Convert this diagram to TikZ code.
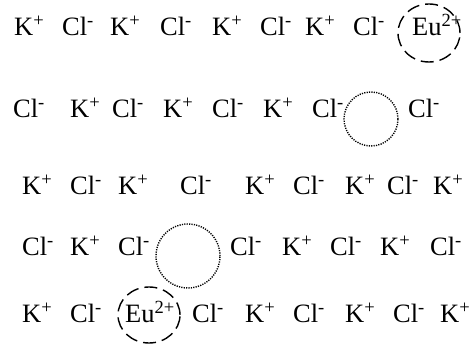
\documentclass[tikz,border=0pt]{standalone}
\usepackage{fontspec}
\setmainfont{Liberation Serif}
\newcommand{\Kp}{K\textsuperscript{+}}
\newcommand{\Clm}{Cl\textsuperscript{-}}
\newcommand{\Eu}{Eu\textsuperscript{2+}}

\begin{document}
\begin{tikzpicture}[x=1pt,y=-1pt,
  ion/.style={anchor=base west,inner sep=0pt,font=\fontsize{26.5}{30}\selectfont},
  dopant/.style={line width=1.4pt,dash pattern=on 13pt off 6pt},
  vacancy/.style={line width=1.4pt,dash pattern=on 1.2pt off 1.2pt}]
\useasboundingbox (0,0) rectangle (472,347);
% row 1
\foreach \x/\t [count=\i] in {14/\Kp,62/\Clm,110/\Kp,160/\Clm,212/\Kp,260/\Clm,305/\Kp,353/\Clm}
  \node[ion] (a\i) at (\x,36) {\t};
\node[ion] (eua) at (412,36) {\Eu};
\draw[dopant] (429,33) ellipse [x radius=31pt,y radius=29pt];
% row 2
\foreach \x/\t [count=\i] in {13/\Clm,70/\Kp,112/\Clm,163/\Kp,212/\Clm,263/\Kp,312/\Clm,408/\Clm}
  \node[ion] (b\i) at (\x,118) {\t};
\draw[vacancy] (371,119) circle [radius=27pt];
% row 3
\foreach \x/\t [count=\i] in {22/\Kp,70/\Clm,118/\Kp,180/\Clm,245/\Kp,293/\Clm,345/\Kp,387/\Clm,433/\Kp}
  \node[ion] (c\i) at (\x,195) {\t};
% row 4
\foreach \x/\t [count=\i] in {22/\Clm,70/\Kp,118/\Clm,230/\Clm,282/\Kp,330/\Clm,380/\Kp,430/\Clm}
  \node[ion] (d\i) at (\x,256) {\t};
\draw[vacancy] (188,256) circle [radius=32pt];
% row 5
\foreach \x/\t [count=\i] in {22/\Kp,70/\Clm,192/\Clm,245/\Kp,293/\Clm,345/\Kp,393/\Clm,440/\Kp}
  \node[ion] (e\i) at (\x,323) {\t};
\node[ion] (eue) at (125,323) {\Eu};
\draw[dopant] (149,315) ellipse [x radius=31pt,y radius=28pt];
\end{tikzpicture}
\end{document}
